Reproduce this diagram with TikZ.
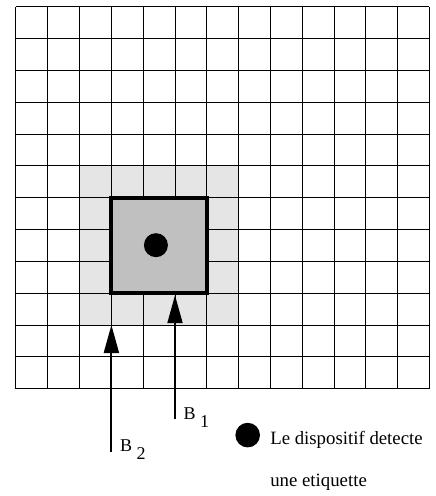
\documentclass[tikz,border=0pt]{standalone}
\usepackage{fontspec}
\setmainfont{Liberation Serif}
\usetikzlibrary{arrows.meta}
\definecolor{zoneclaire}{RGB}{229,229,229}
\definecolor{zonefoncee}{RGB}{192,192,192}

\begin{document}
\begin{tikzpicture}[
    x=31.8pt, y=31.8pt,
    grille/.style={line width=1pt, draw=black},
    portee/.style={rectangle, fill=zoneclaire, minimum size=159pt, inner sep=0pt, outer sep=0pt},
    lecteur/.style={rectangle, draw=black, fill=zonefoncee, line width=4pt, minimum size=95.4pt, inner sep=0pt},
    etiquette/.style={circle, fill=black, minimum size=24pt, inner sep=0pt},
    fleche/.style={-{Triangle[length=28pt,width=15pt]}, line width=2pt},
    texteB/.style={font=\fontsize{18}{21}\selectfont, anchor=base west, inner sep=0pt},
    legende/.style={font=\fontsize{18.8}{22}\selectfont, anchor=base west, inner sep=0pt}
]
\useasboundingbox (-0.503,-3.377) rectangle (13.176,12.22);

% Zone de portee (gris clair)
\node[portee] (portee) at (4.5,4.5) {};

% Grille
\draw[grille, step=1] (0,0) grid (13,12);

% Zone du lecteur
\node[lecteur] (lecteur) at (4.5,4.5) {};
\node[etiquette] (tag) at (4.40,4.51) {};

% Fleches B1 et B2
\coordinate (piedB1) at (5,-0.965);
\coordinate (piedB2) at (3,-1.984);
\draw[fleche] (piedB1) -- (piedB1 |- lecteur.south);
\draw[fleche] (piedB2) -- (piedB2 |- portee.south);
\node[texteB, xshift=8.3pt] (nomB1) at (piedB1) {B \raisebox{-8pt}{1}};
\node[texteB, xshift=8.6pt] (nomB2) at (piedB2) {B \raisebox{-7.6pt}{2}};

% Legende
\node[etiquette, minimum size=24.6pt] (puce) at (7.286,-1.462) {};
\node[legende] (legende1) at (7.99,-1.742) {Le dispositif detecte};
\node[legende] (legende2) at (7.99,-3.085) {une etiquette};

\end{tikzpicture}
\end{document}
